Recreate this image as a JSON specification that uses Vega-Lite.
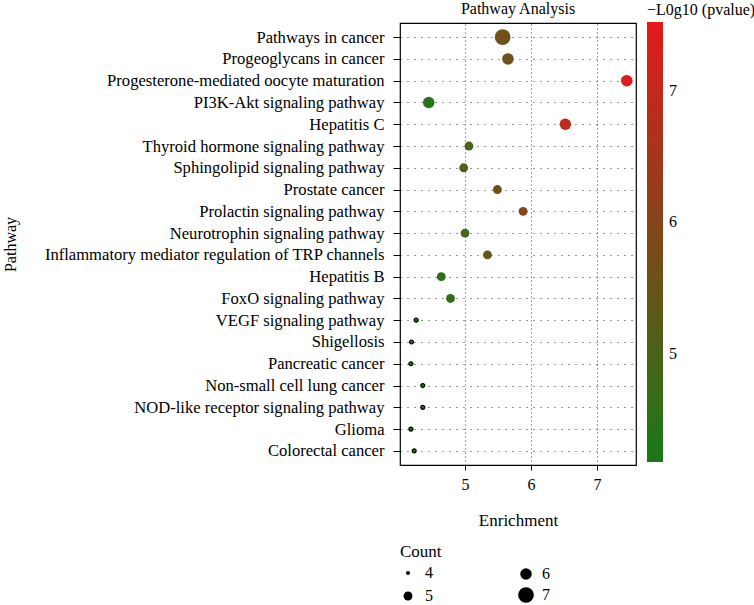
{
  "$schema": "https://vega.github.io/schema/vega-lite/v6.json",
  "autosize": {"type": "none"},
  "padding": {"left": 400, "top": 23, "right": 118, "bottom": 140},
  "width": 236,
  "height": 442,
  "title": {"text": "Pathway Analysis", "anchor": "middle", "offset": -15, "fontSize": 16, "fontWeight": "normal", "font": "Liberation Serif", "color": "black"},
  "config": {
    "view": {"stroke": "black", "strokeWidth": 1.2},
    "font": "Liberation Serif",
    "axis": {"labelFont": "Liberation Serif", "titleFont": "Liberation Serif", "labelColor": "black", "titleColor": "black", "titleFontWeight": "normal", "tickColor": "black", "domain": false}
  },
  "data": {
    "values": [
      {"Pathway": "Pathways in cancer", "Enrichment": 5.57, "Count": 7, "logp": 5.6},
      {"Pathway": "Progeoglycans in cancer", "Enrichment": 5.65, "Count": 6, "logp": 5.65},
      {"Pathway": "Progesterone-mediated oocyte maturation", "Enrichment": 7.45, "Count": 6, "logp": 7.45},
      {"Pathway": "PI3K-Akt signaling pathway", "Enrichment": 4.45, "Count": 6, "logp": 4.4},
      {"Pathway": "Hepatitis C", "Enrichment": 6.52, "Count": 6, "logp": 6.9},
      {"Pathway": "Thyroid hormone signaling pathway", "Enrichment": 5.06, "Count": 5, "logp": 4.95},
      {"Pathway": "Sphingolipid signaling pathway", "Enrichment": 4.98, "Count": 5, "logp": 5.0},
      {"Pathway": "Prostate cancer", "Enrichment": 5.49, "Count": 5, "logp": 5.45},
      {"Pathway": "Prolactin signaling pathway", "Enrichment": 5.88, "Count": 5, "logp": 6.05},
      {"Pathway": "Neurotrophin signaling pathway", "Enrichment": 5.0, "Count": 5, "logp": 4.85},
      {"Pathway": "Inflammatory mediator regulation of TRP channels", "Enrichment": 5.34, "Count": 5, "logp": 5.35},
      {"Pathway": "Hepatitis B", "Enrichment": 4.64, "Count": 5, "logp": 4.55},
      {"Pathway": "FoxO signaling pathway", "Enrichment": 4.78, "Count": 5, "logp": 4.65},
      {"Pathway": "VEGF signaling pathway", "Enrichment": 4.26, "Count": 4, "logp": 4.3},
      {"Pathway": "Shigellosis", "Enrichment": 4.19, "Count": 4, "logp": 4.25},
      {"Pathway": "Pancreatic cancer", "Enrichment": 4.18, "Count": 4, "logp": 4.25},
      {"Pathway": "Non-small cell lung cancer", "Enrichment": 4.36, "Count": 4, "logp": 4.35},
      {"Pathway": "NOD-like receptor signaling pathway", "Enrichment": 4.36, "Count": 4, "logp": 4.35},
      {"Pathway": "Glioma", "Enrichment": 4.18, "Count": 4, "logp": 4.25},
      {"Pathway": "Colorectal cancer", "Enrichment": 4.23, "Count": 4, "logp": 4.3}
    ]
  },
  "layer": [
    {
      "mark": {"type": "point", "filled": true, "opacity": 1, "stroke": "black"},
      "encoding": {
        "x": {
          "field": "Enrichment", "type": "quantitative",
          "scale": {"domain": [4.015, 7.59], "nice": false, "zero": false},
          "axis": {"values": [5, 6, 7], "format": "d", "title": "Enrichment", "labelFontSize": 16, "titleFontSize": 17, "tickSize": 5, "labelPadding": 6, "titlePadding": 20,
                   "grid": true, "gridDash": [1, 3], "gridColor": "#444", "gridWidth": 1}
        },
        "y": {
          "field": "Pathway", "type": "nominal", "sort": null,
          "scale": {"type": "point", "padding": 0.65},
          "axis": {"title": "Pathway", "labelFontSize": 16.6, "labelLimit": 400, "titleFontSize": 16, "tickSize": 7, "labelPadding": 9,
                   "titleX": -390, "titleY": 221, "titleAngle": 270, "titleAlign": "center", "titleBaseline": "middle",
                   "grid": true, "gridDash": [1, 6], "gridColor": "#333", "gridWidth": 1}
        },
        "color": {
          "field": "logp", "type": "quantitative",
          "scale": {"domain": [4.18, 7.52], "range": ["#187a18", "#e3191b"], "interpolate": "rgb", "nice": false, "zero": false},
          "legend": {"title": "\u2212L0g10 (pvalue)", "orient": "none", "legendX": 247, "legendY": -21, "values": [5, 6, 7], "format": "d",
                     "gradientLength": 440, "gradientThickness": 16, "gradientStrokeWidth": 0, "titleFontSize": 16, "titleFontWeight": "normal", "titleFont": "Liberation Serif", "titlePadding": 4,
                     "labelFontSize": 16, "labelFont": "Liberation Serif", "labelOffset": 6, "labelColor": "black", "titleColor": "black", "direction": "vertical"}
        },
        "size": {
          "field": "Count", "type": "quantitative",
          "scale": {"domain": [4, 5, 6, 7], "range": [16, 79, 133, 246]},
          "legend": {"title": "Count", "orient": "none", "legendX": 0, "legendY": 521, "values": [4, 5], "format": "d", "rowPadding": 7, "titlePadding": 4,
                     "symbolFillColor": "black", "symbolStrokeColor": "black", "symbolStrokeWidth": 0, "symbolOpacity": 1, "titleFontSize": 17, "titleFontWeight": "normal", "titleFont": "Liberation Serif",
                     "labelFontSize": 16, "labelFont": "Liberation Serif", "labelOffset": 9, "titleColor": "black", "labelColor": "black"}
        },
        "strokeWidth": {"condition": {"test": "datum.Count == 4", "value": 1.2}, "value": 0}
      }
    },
    {
      "mark": {"type": "point", "filled": true, "opacity": 0, "color": "black"},
      "encoding": {
        "x": {"field": "Enrichment", "type": "quantitative"},
        "y": {"field": "Pathway", "type": "nominal", "sort": null},
        "size": {
          "field": "Count", "type": "quantitative",
          "legend": {"title": null, "orient": "none", "legendX": 118, "legendY": 543, "values": [6, 7], "format": "d", "rowPadding": 5,
                     "symbolFillColor": "black", "symbolStrokeColor": "black", "symbolStrokeWidth": 0, "symbolOpacity": 1,
                     "labelFontSize": 16, "labelFont": "Liberation Serif", "labelOffset": 8, "labelColor": "black"}
        }
      }
    }
  ],
  "resolve": {"legend": {"size": "independent"}}
}
